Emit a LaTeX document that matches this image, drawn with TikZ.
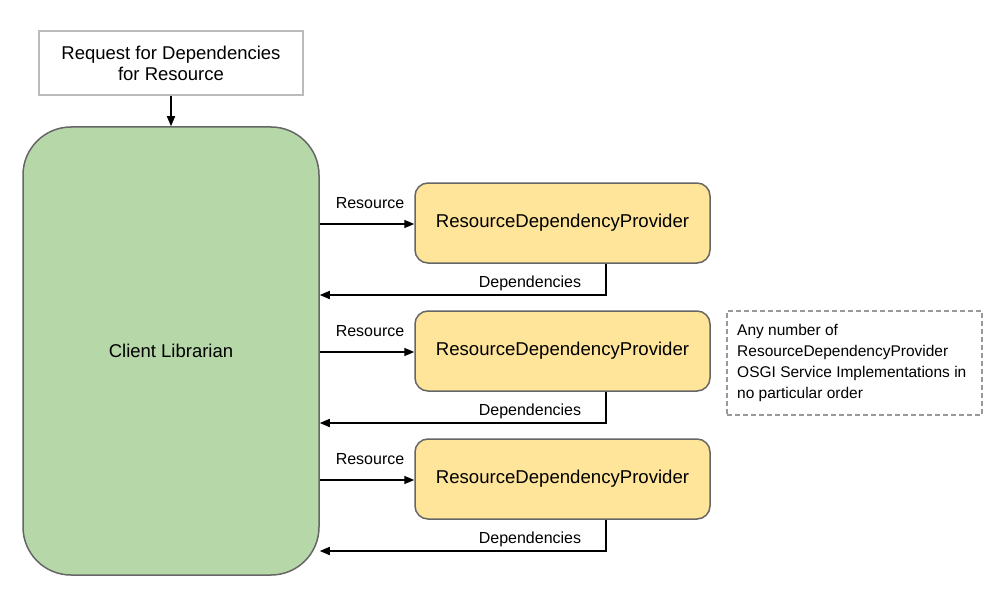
\documentclass[tikz,border=0pt]{standalone}
\usepackage{fontspec}
\setmainfont{Liberation Sans}
\usetikzlibrary{arrows.meta}
\definecolor{greenfill}{HTML}{B6D7A8}
\definecolor{yellowfill}{HTML}{FFE599}
\definecolor{edgegray}{HTML}{666666}
\definecolor{lightgray}{HTML}{BBBBBB}
\definecolor{dashgray}{HTML}{999999}
\tikzset{
  reqbox/.style={draw=lightgray, line width=1.3pt, fill=white, minimum width=264pt, minimum height=64pt, align=center, font=\fontsize{18.5}{21}\selectfont, inner sep=0pt},
  clientbox/.style={draw=edgegray, line width=1.5pt, fill=greenfill, rounded corners=48pt, minimum width=296pt, minimum height=448pt, font=\fontsize{18.5}{21}\selectfont, inner sep=0pt},
  provbox/.style={draw=edgegray, line width=1.5pt, fill=yellowfill, rounded corners=13pt, minimum width=295pt, minimum height=80pt, font=\fontsize{18.6}{21}\selectfont, inner sep=0pt},
  notebox/.style={draw=dashgray, line width=1.3pt, dash pattern=on 5pt off 3pt, minimum width=255pt, minimum height=104pt, inner sep=0pt},
  conn/.style={line width=1.5pt, -{Triangle[length=10pt,width=8pt]}},
  lbl/.style={font=\fontsize{16}{18}\selectfont, inner sep=0pt},
  notetext/.style={font=\fontsize{15.5}{21}\selectfont, align=left, inner sep=0pt, anchor=north west}
}
\begin{document}
\begin{tikzpicture}[x=1pt,y=-1pt]
\useasboundingbox (0,0) rectangle (1004,599);
\node[reqbox] (req) at (171,63) {Request for Dependencies\\for Resource};
\node[clientbox] (client) at (171,351) {Client Librarian};
\node[provbox] (p1) at (562.5,223) {ResourceDependencyProvider};
\node[provbox] (p2) at (562.5,351) {ResourceDependencyProvider};
\node[provbox] (p3) at (562.5,479) {ResourceDependencyProvider};
\node[notebox] (note) at (854.5,363) {};
\node[notetext] (notet) at (737,324) {Any number of\\ResourceDependencyProvider\\OSGI Service Implementations in\\no particular order};

\draw[conn] (req.south) -- (client.north);

\foreach \p/\y in {p1/224,p2/352,p3/480}{
  \draw[conn] (client.east |- 0,\y) -- (\p.west |- 0,\y);
  \node[lbl] at (370,\y-21) {Resource};
  \coordinate (\p d) at (606,\y+71);
  \draw[conn] (\p.south -| 606,0) -- (\p d) -- (client.east |- \p d);
  \node[lbl] at (530,\y+59) {Dependencies};
}
\end{tikzpicture}
\end{document}
